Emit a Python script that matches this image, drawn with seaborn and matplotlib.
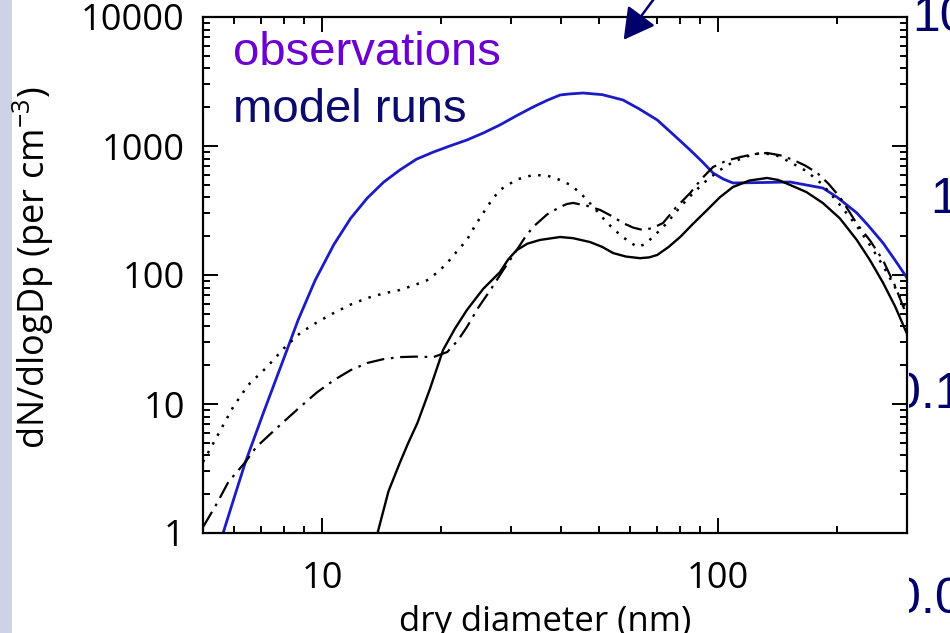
import matplotlib
matplotlib.use("Agg")
import matplotlib.pyplot as plt
import matplotlib.ticker as mticker
from matplotlib.patches import Rectangle
import seaborn as sns

# diametres (nm) et concentrations
obs_d = [5.2, 5.62, 6.0, 6.4, 7.1, 7.93, 8.7, 9.6, 10.7, 11.8, 13.0, 14.3, 15.7, 17.3,
         19.1, 21.0, 23.2, 25.5, 28.1, 31.0, 34.1, 37.0, 39.9, 42.0, 45.6, 51.0, 57.5,
         63.0, 70.2, 77.0, 85.0, 91.0, 97.1, 103, 109, 125, 152, 184, 200, 224, 240,
         261, 280, 300]
obs_n = [0.5, 1.0, 1.9, 3.55, 8.5, 21, 45, 91, 172, 275, 395, 525, 651, 790,
         898, 1000, 1113, 1260, 1455, 1720, 2006, 2260, 2485, 2530, 2575, 2500, 2274,
         1950, 1591, 1230, 931, 760, 618, 555, 517, 520, 526, 472, 400, 303, 240,
         177, 130, 95]

run1_d = [13.0, 13.8, 14.7, 15.7, 16.5, 17.4, 18.7, 20.2, 21.6, 23.2, 25.5, 28.1, 29.5,
          31.0, 33.0, 35.5, 39.9, 43.0, 47.5, 51.0, 54.3, 58.5, 63.5, 67.0, 70.2, 75.0,
          80.2, 86.5, 93.8, 101, 109, 120, 133, 142, 152, 167, 184, 203, 224, 242,
          261, 280, 300]
run1_n = [0.55, 1.0, 2.1, 3.49, 5.0, 7.13, 13, 26.2, 38, 53.5, 78, 105, 132,
          156, 175, 187, 197, 193, 180, 165, 148, 139, 135, 137, 143, 165,
          197, 250, 319, 400, 481, 540, 565, 545, 499, 440, 361, 275, 187, 130,
          87, 57, 35]

run2_d = [5.0, 5.96, 6.5, 7.26, 8.0, 8.8, 9.7, 10.7, 11.8, 13.0, 14.3, 15.7, 17.0,
          18.4, 19.4, 20.5, 21.8, 23.2, 24.3, 25.5, 26.8, 28.1, 31.0, 34.1, 37.0, 39.9,
          42.3, 44.9, 48.5, 52.5, 57.0, 62.4, 65.0, 68.5, 74.0, 80.2, 87.0, 93.8, 101,
          109, 118, 128, 140, 152, 167, 184, 203, 224, 242, 261, 280, 300]
run2_n = [3.55, 9.5, 14, 19.4, 27, 35.5, 43, 50.8, 59, 66.3, 72, 76.5, 83,
          91, 103, 120, 150, 187, 240, 302, 380, 456, 550, 596, 590, 545,
          500, 432, 335, 253, 200, 165, 172, 197, 250, 337, 440, 545, 650,
          751, 830, 883, 850, 751, 640, 500, 350, 240, 170, 118, 80, 52]

run3_d = [5.0, 5.43, 5.8, 6.4, 6.8, 7.26, 8.0, 8.8, 9.7, 10.7, 11.8, 13.0, 14.3, 15.7,
          17.3, 19.1, 20.7, 22.0, 23.2, 24.8, 26.6, 28.7, 31.0, 32.5, 34.1, 37.0, 39.9,
          41.5, 43.0, 46.5, 50.4, 54.0, 57.5, 61.0, 64.7, 68.5, 72.6, 78.0, 85.0, 91.0,
          97.1, 105, 114, 123, 133, 144, 155, 166, 178, 190, 203, 213, 224, 242, 261,
          280, 300]
run3_n = [1.11, 1.71, 2.5, 3.55, 4.6, 5.55, 7.3, 9.5, 12.3, 15.3, 18.3, 20.8, 22.3, 23.1,
          23.3, 23.1, 25.3, 31, 39.5, 56, 76.5, 110, 156, 195, 236, 295, 337,
          355, 362, 345, 319, 285, 253, 233, 223, 232, 253, 330, 432, 560,
          687, 770, 822, 865, 883, 845, 779, 705, 618, 510, 402, 320, 250, 185, 130,
          82, 48]

xticks = [10, 100]
xtick_labels = ["10", "100"]
yticks = [1, 10, 100, 1000, 10000]
ytick_labels = ["1", "10", "100", "1000", "10000"]

# textes de l'autre graphique, en partie caches
side_labels = ["10", "1", "0.1", "0.01"]

sns.set_theme(style="ticks")
plt.rcParams["font.family"] = ["Open Sans", "DejaVu Sans"]
plt.rcParams["mathtext.fontset"] = "custom"
plt.rcParams["mathtext.rm"] = "Open Sans"
plt.rcParams["mathtext.it"] = "Open Sans"
plt.rcParams["text.color"] = "black"

W, H = 950, 633
fig = plt.figure(figsize=(W / 100, H / 100), dpi=100)
fig.patch.set_facecolor("white")

ax = fig.add_axes([203 / W, 100 / H, 704 / W, 516 / H])
ax.set_xscale("log")
ax.set_yscale("log")

sns.lineplot(x=obs_d, y=obs_n, ax=ax, color="#1c1cc4", lw=2.0)
sns.lineplot(x=run1_d, y=run1_n, ax=ax, color="black", lw=1.7)
sns.lineplot(x=run2_d, y=run2_n, ax=ax, color="black", lw=1.8, linestyle=(0, (1, 3)))
sns.lineplot(x=run3_d, y=run3_n, ax=ax, color="black", lw=1.6,
             linestyle=(0, (8, 3, 1.2, 3)))

ax.set_xlim(5, 300)
ax.set_ylim(1, 10000)

ax.xaxis.set_major_locator(mticker.FixedLocator(xticks))
ax.xaxis.set_major_formatter(mticker.FixedFormatter(xtick_labels))
ax.yaxis.set_major_locator(mticker.FixedLocator(yticks))
ax.yaxis.set_major_formatter(mticker.FixedFormatter(ytick_labels))
ax.xaxis.set_minor_locator(mticker.LogLocator(base=10, subs=range(2, 10), numticks=20))
ax.yaxis.set_minor_locator(mticker.LogLocator(base=10, subs=range(2, 10), numticks=20))
ax.xaxis.set_minor_formatter(mticker.NullFormatter())
ax.yaxis.set_minor_formatter(mticker.NullFormatter())

ax.tick_params(which="both", direction="in", top=True, right=True, width=1.4,
               color="black", labelcolor="black")
ax.tick_params(which="major", length=11)
ax.tick_params(which="minor", length=5)
ax.tick_params(axis="x", which="major", labelsize=26, pad=20)
ax.tick_params(axis="y", which="major", labelsize=26, pad=13)
for s in ax.spines.values():
    s.set_linewidth(1.6)
    s.set_color("black")

# titres des axes
fig.text(33 / W, 1 - 268 / H, r"dN/dlogDp (per cm$^{-3}$)", rotation=90,
         ha="center", va="center", fontsize=26)
fig.text(545 / W, 2 / H, "dry diameter (nm)", ha="center", va="baseline", fontsize=25)

# legende en texte
fig.text(233 / W, 1 - 65 / H, "observations", color="#6c00d0", fontsize=34,
         family=["Liberation Sans"], va="baseline")
fig.text(233 / W, 1 - 122 / H, "model runs", color="#0b0b6e", fontsize=34,
         family=["Liberation Sans"], va="baseline")

# fleche
ax.annotate("", xy=(622, H - 42), xycoords="figure pixels",
            xytext=(662, H + 12), textcoords="figure pixels",
            arrowprops=dict(arrowstyle="-|>,head_length=0.9,head_width=0.5",
                            color="#00006b", lw=1.8, mutation_scale=21),
            annotation_clip=False)

# fond de diapo et bord gris
fig.patches.append(Rectangle((0, 0), 12 / W, 1, transform=fig.transFigure,
                             facecolor="#cdd2e4", edgecolor="none", zorder=-2))
fig.patches.append(Rectangle((12 / W, 0), 897 / W, 1, transform=fig.transFigure,
                             facecolor="white", edgecolor="none", zorder=-0.5))
side_pos = [(912, 18), (930, 200), (893, 395), (893, 600)]
for lab, (px, py) in zip(side_labels, side_pos):
    fig.text(px / W, 1 - py / H, lab, color="#00006b", fontsize=36,
             family=["Liberation Sans"], ha="left", va="center", zorder=-1)

fig.savefig("out.png", dpi=100)
